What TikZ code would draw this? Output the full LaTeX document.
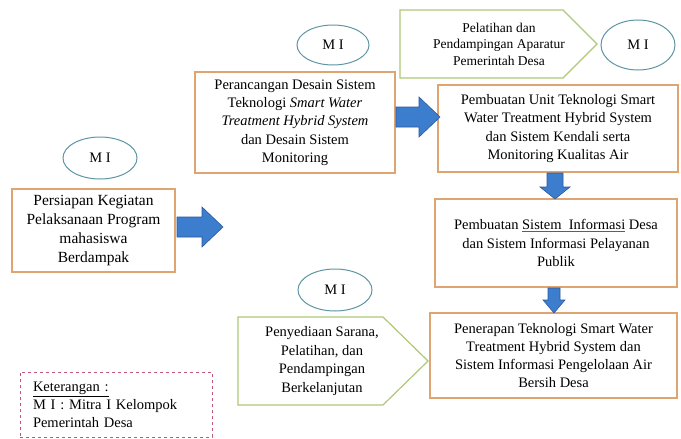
\documentclass[tikz,border=0pt]{standalone}
\usepackage{fontspec}
\setmainfont{Liberation Serif}
\usetikzlibrary{shapes.geometric}
\definecolor{boxc}{RGB}{222,165,115}
\definecolor{ellc}{RGB}{95,150,165}
\definecolor{pentc}{RGB}{175,200,120}
\definecolor{arrf}{RGB}{60,125,205}
\definecolor{arrd}{RGB}{45,90,160}
\definecolor{legc}{RGB}{190,90,120}
\definecolor{ulc}{RGB}{60,90,200}
\begin{document}
\begin{tikzpicture}[x=1pt,y=-1pt,
 stepbox/.style={draw=boxc, line width=1.2pt, fill=white, align=center, inner sep=0pt,
   font=\fontsize{14.5}{18.3}\selectfont},
 mi/.style={ellipse, draw=ellc, line width=1pt, fill=white, minimum width=74pt,
   minimum height=42pt, inner sep=0pt, font=\fontsize{14.5}{16}\selectfont},
 pent/.style={draw=pentc, line width=1.2pt, fill=white},
 penttxt/.style={align=center, inner sep=0pt},
 blockarrow/.style={fill=arrf, draw=arrd, line width=0.6pt, line join=miter},
 legend/.style={draw=legc, dashed, line width=1pt, align=left, inner xsep=13pt,
   text width=166pt, minimum height=65pt, font=\fontsize{14.5}{18}\selectfont},
]
\useasboundingbox (0,0) rectangle (681,439);
\fill[white] (0,0) rectangle (681,439);

% ellipses
\node[mi] (e1) at (100,158) {M I};
\node[mi, minimum width=72pt, minimum height=40pt] (e2) at (333,45) {M I};
\node[mi, minimum height=50pt] (e3) at (638,45) {M I};
\node[mi] (e4) at (335,290) {M I};

% boxes
\node[stepbox, minimum width=163pt, minimum height=83pt, font=\fontsize{15.5}{19}\selectfont] (b1) at (93.5,230.5)
  {Persiapan Kegiatan\\Pelaksanaan Program\\mahasiswa\\Berdampak};
\node[stepbox, minimum width=200pt, minimum height=101pt] (b2) at (295,122.5)
  {Perancangan Desain Sistem\\Teknologi \textit{Smart Water}\\\textit{Treatment Hybrid System}\\dan Desain Sistem\\Monitoring};
\node[stepbox, minimum width=240pt, minimum height=87pt] (b3) at (558,128.5)
  {Pembuatan Unit Teknologi Smart\\Water Treatment Hybrid System\\dan Sistem Kendali serta\\Monitoring Kualitas Air};
\node[stepbox, minimum width=242pt, minimum height=88pt] (b4) at (556,243)
  {Pembuatan {\color{ulc}\underline{\color{black}Sistem\ \ Informasi}} Desa\\dan Sistem Informasi Pelayanan\\Publik};
\node[stepbox, minimum width=247pt, minimum height=85pt] (b5) at (553.5,355.5)
  {Penerapan Teknologi Smart Water\\Treatment Hybrid System dan\\Sistem Informasi Pengelolaan Air\\Bersih Desa};

% pentagons
\draw[pent] (400,10) -- (563,10) -- (597,44) -- (563,78) -- (400,78) -- cycle;
\node[penttxt, font=\fontsize{13.5}{16.5}\selectfont] (p1) at (499,44)
  {Pelatihan dan\\Pendampingan Aparatur\\Pemerintah Desa};
\draw[pent] (238,317) -- (383,317) -- (428,361) -- (383,405) -- (238,405) -- cycle;
\node[penttxt, font=\fontsize{14.5}{18.7}\selectfont] (p2) at (322,361)
  {Penyediaan Sarana,\\Pelatihan, dan\\Pendampingan\\Berkelanjutan};

% block arrows
\draw[blockarrow] (177,217) -- (202,217) -- (202,207) -- (223,227) -- (202,247) -- (202,237) -- (177,237) -- cycle;
\draw[blockarrow] (396,107) -- (419,107) -- (419,97) -- (440,117) -- (419,137) -- (419,127) -- (396,127) -- cycle;
\draw[blockarrow] (547,173) -- (563,173) -- (563,187) -- (570,187) -- (555,199) -- (540,187) -- (547,187) -- cycle;
\draw[blockarrow] (548,288) -- (560,288) -- (560,300) -- (565,300) -- (554,313) -- (543,300) -- (548,300) -- cycle;

% legend
\node[legend] (leg) at (116,404.5)
  {\underline{Keterangan :}\\M I : Mitra I Kelompok\\Pemerintah Desa};
\end{tikzpicture}
\end{document}
